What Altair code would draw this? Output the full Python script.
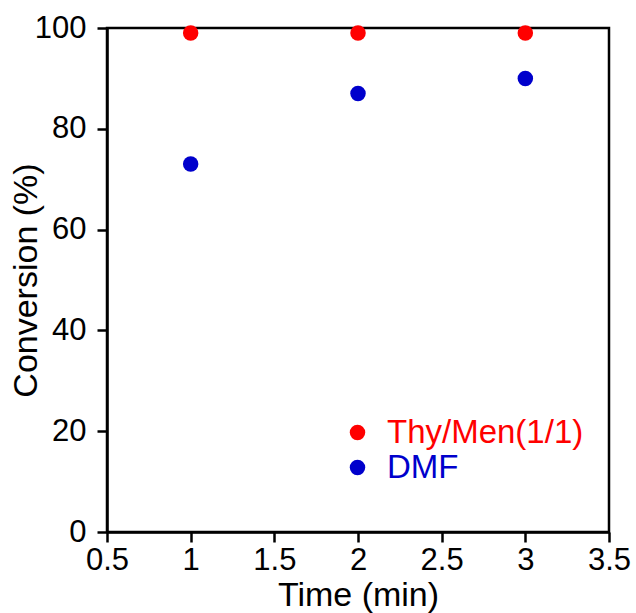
import altair as alt
import pandas as pd

times = [1, 2, 3]
thy_men = [99, 99, 99]
dmf = [73, 87, 90]
series_names = ["Thy/Men(1/1)", "DMF"]
series_colors = ["#ff0000", "#0000cc"]
x_ticks = [0.5, 1, 1.5, 2, 2.5, 3, 3.5]
y_ticks = [0, 20, 40, 60, 80, 100]

rows = []
for t, v in zip(times, thy_men):
    rows.append({"time": t, "conv": v, "series": series_names[0]})
for t, v in zip(times, dmf):
    rows.append({"time": t, "conv": v, "series": series_names[1]})
df = pd.DataFrame(rows)

FONT = "Liberation Sans"

chart = alt.Chart(df).mark_circle(size=240, opacity=1).encode(
    x=alt.X("time:Q",
            scale=alt.Scale(domain=[0.5, 3.5], nice=False, zero=False),
            axis=alt.Axis(values=x_ticks, title="Time (min)", grid=False, format="~g",
                          labelFlush=False, tickSize=10, tickWidth=2.5,
                          domainWidth=2.5, domainColor="black", tickColor="black",
                          labelFontSize=31, titleFontSize=34, labelColor="black",
                          titleColor="black", labelFont=FONT, titleFont=FONT,
                          titleFontWeight="normal", labelPadding=3, titlePadding=3)),
    y=alt.Y("conv:Q",
            scale=alt.Scale(domain=[0, 100], nice=False),
            axis=alt.Axis(values=y_ticks, title="Conversion (%)", grid=False,
                          labelFlush=False, tickSize=10, tickWidth=2.5,
                          domainWidth=2.5, domainColor="black", tickColor="black",
                          labelFontSize=31, titleFontSize=34, labelColor="black",
                          titleColor="black", labelFont=FONT, titleFont=FONT,
                          titleFontWeight="normal", labelPadding=11,
                          titleX=-64, titleY=252)),
    color=alt.Color("series:N",
                    scale=alt.Scale(domain=series_names, range=series_colors),
                    legend=alt.Legend(title=None, orient="none", legendX=234, legendY=388,
                                      symbolType="circle", symbolSize=240,
                                      symbolStrokeWidth=0, labelFontSize=33,
                                      labelFont=FONT, labelOffset=13, rowPadding=1,
                                      padding=0, labelLimit=400,
                                      labelColor=alt.ExprRef(
                                          expr="datum.value == 'DMF' ? '#0000cc' : '#ff0000'"))),
).properties(
    width=502, height=504,
    autosize=alt.AutoSizeParams(type="none"),
    padding={"left": 107, "top": 28, "right": 27, "bottom": 81},
).configure(
    background="white"
).configure_view(
    stroke="black", strokeWidth=2.5
)

chart.save("out.html", embed_options={"renderer": "svg", "actions": False})
